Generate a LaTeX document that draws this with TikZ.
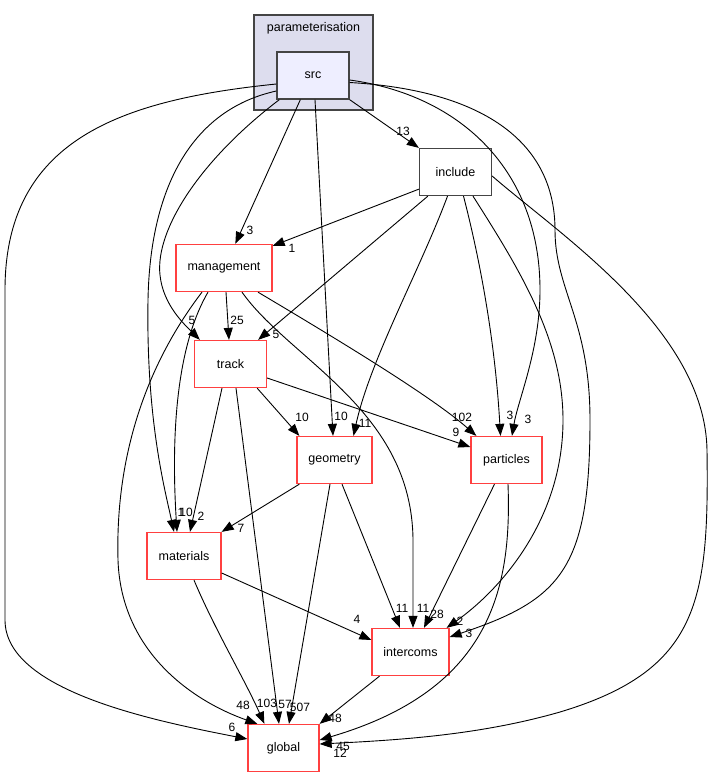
\documentclass[tikz,border=0pt]{standalone}
\usepackage{fontspec}
\setmainfont{Liberation Sans}
\usepackage{tikz}
\usetikzlibrary{arrows.meta,calc}

\definecolor{dirred}{RGB}{255,64,64}
\definecolor{dirgrey}{RGB}{68,68,68}
\definecolor{clusterfill}{RGB}{221,221,238}
\definecolor{srcfill}{RGB}{238,238,255}

\tikzset{
  dirbox/.style={draw=dirred, line width=1.3pt, fill=white, minimum height=47pt, inner sep=0pt, font=\fontsize{12.5}{14}\selectfont},
  dep/.style={-{Triangle[length=12pt,width=9pt]}, line width=0.9pt},
  lbl/.style={font=\fontsize{12}{14}\selectfont, inner sep=0pt},
}

\begin{document}
\begin{tikzpicture}[x=1pt,y=-1pt]
\useasboundingbox (0,0) rectangle (715,777);

\draw[draw=dirgrey, fill=clusterfill, line width=1.3pt] (254,15) rectangle (373,110);
\node[lbl, font=\fontsize{12.5}{14}\selectfont] (paramtitle) at (313.5,28) {parameterisation};

\node[dirbox, draw=dirgrey, fill=srcfill, minimum width=72pt] (src) at (313,75.5) {src};
\node[dirbox, draw=dirgrey, minimum width=72pt] (include) at (455.5,172) {include};
\node[dirbox, minimum width=96pt] (management) at (224,268) {management};
\node[dirbox, minimum width=72pt] (track) at (230.5,364) {track};
\node[dirbox, minimum width=75pt] (geometry) at (334.5,460) {geometry};
\node[dirbox, minimum width=71pt] (particles) at (506.5,460) {particles};
\node[dirbox, minimum width=74pt] (materials) at (184,556) {materials};
\node[dirbox, minimum width=77pt] (intercoms) at (410.5,652) {intercoms};
\node[dirbox, minimum width=71pt] (global) at (283.5,748) {global};

% src
\draw[dep] (src.south east) -- (include.north west) node[lbl, at={(403,131)}] {13};
\draw[dep] ($(src.south west)+(24,0)$) -- ($(management.north west)+(60,0)$) node[lbl, at={(250,230)}] {3};
\draw[dep] ($(src.south west)+(3,0)$) .. controls (200,160) and (155,230) .. (160,275) .. controls (163,305) and (185,325) .. ($(track.north west)+(6,0)$) node[lbl, at={(192,320)}] {5};
\draw[dep] ($(src.south)+(2,0)$) -- ($(geometry.north)+(-1.5,0)$) node[lbl, at={(341,416)}] {10};
\draw[dep] ($(src.east)+(0,4.5)$) .. controls (460,95) and (540,170) .. (540,290) .. controls (540,350) and (518,400) .. ($(particles.north)+(5.5,0)$) node[lbl, at={(528,419)}] {3};
\draw[dep] ($(src.east)+(0,7)$) .. controls (480,90) and (555,140) .. (555,230) .. controls (555,290) and (590,320) .. (590,420) .. controls (590,570) and (560,600) .. ($(intercoms.east)+(0,-15)$) node[lbl, at={(469,633)}] {3};
\draw[dep] ($(src.west)+(0,15.5)$) .. controls (190,110) and (150,190) .. (148,300) .. controls (146,420) and (165,490) .. ($(materials.north)+(-10,0)$) node[lbl, at={(181,512)}] {1};
\draw[dep] ($(src.west)+(0,8.5)$) .. controls (120,100) and (5,140) .. (5,290) -- (5,620) .. controls (5,690) and (150,720) .. ($(global.west)+(0,-9)$) node[lbl, at={(232,727)}] {6};

% include
\draw[dep] ($(include.south west)+(0,-7)$) -- ($(management.north east)+(0,2)$) node[lbl, at={(292,248)}] {1};
\draw[dep] ($(include.south west)+(9,0)$) -- ($(track.north east)+(-9,0)$) node[lbl, at={(276,334)}] {5};
\draw[dep] ($(include.south)+(-8,0)$) .. controls (420,270) and (370,360) .. ($(geometry.north)+(19,0)$) node[lbl, at={(365,423)}] {11};
\draw[dep] ($(include.south)+(8,0)$) .. controls (480,260) and (495,340) .. ($(particles.north)+(-6,0)$) node[lbl, at={(510,415)}] {3};
\draw[dep] ($(include.south)+(17.5,0)$) .. controls (520,270) and (563,340) .. (563,420) .. controls (563,520) and (500,590) .. ($(intercoms.north east)+(-3,0)$) node[lbl, at={(460,621)}] {2};
\draw[dep] ($(include.east)+(0,4)$) .. controls (560,235) and (705,330) .. (707,450) .. controls (709,600) and (700,670) .. (560,712) .. controls (480,735) and (400,740) .. ($(global.east)+(0,-4)$) node[lbl, at={(340,753)}] {12};

% management
\draw[dep] ($(management.south)+(2,0)$) -- ($(track.north)+(-1.5,0)$) node[lbl, at={(237,320)}] {25};
\draw[dep] ($(management.south)+(34,0)$) .. controls (330,335) and (430,395) .. ($(particles.north west)+(6,0)$) node[lbl, at={(462,417)}] {102};
\draw[dep] ($(management.south)+(18,0)$) .. controls (290,360) and (412,410) .. (413,540) -- ($(intercoms.north)+(2.5,0)$) node[lbl, at={(423,608)}] {11};
\draw[dep] ($(management.south)+(-16,0)$) .. controls (180,340) and (170,420) .. ($(materials.north)+(-7,0)$) node[lbl, at={(186,512)}] {10};
\draw[dep] ($(management.south)+(-22,0)$) .. controls (150,360) and (115,450) .. (118,560) .. controls (121,650) and (190,700) .. ($(global.north west)+(10,0)$) node[lbl, at={(243,705)}] {48};

% track
\draw[dep] ($(track.south east)+(-10,0)$) -- ($(geometry.north west)+(3,0)$) node[lbl, at={(302,417)}] {10};
\draw[dep] ($(track.east)+(0,14)$) -- ($(particles.west)+(0,-13)$) node[lbl, at={(456,432)}] {9};
\draw[dep] ($(track.south)+(-8.5,0)$) -- ($(materials.north)+(6,0)$) node[lbl, at={(201,516)}] {2};
\draw[dep] ($(track.south)+(5.5,0)$) -- ($(global.north)+(-4.5,0)$) node[lbl, at={(285,704)}] {57};

% geometry
\draw[dep] ($(geometry.south west)+(3,0)$) -- (materials.north east) node[lbl, at={(241,528)}] {7};
\draw[dep] ($(geometry.south)+(-4.5,0)$) -- ($(global.north)+(5.5,0)$) node[lbl, at={(300,707)}] {507};
\draw[dep] ($(geometry.south)+(7.5,0)$) -- ($(intercoms.north)+(-10.5,0)$) node[lbl, at={(402,608)}] {11};

% particles
\draw[dep] ($(particles.south)+(-12,0)$) -- ($(intercoms.north)+(13.5,0)$) node[lbl, at={(437,614)}] {28};
\draw[dep] ($(particles.south)+(1.5,0)$) .. controls (512,590) and (490,690) .. ($(global.east)+(0,-8)$) node[lbl, at={(343,746)}] {45};

% materials, intercoms
\draw[dep] ($(materials.east)+(0,17)$) -- ($(intercoms.west)+(0,-12)$) node[lbl, at={(357,619)}] {4};
\draw[dep] ($(materials.south)+(10,0)$) .. controls (215,630) and (245,680) .. ($(global.north west)+(17,0)$) node[lbl, at={(267,703)}] {103};
\draw[dep] ($(intercoms.south)+(-31,0)$) -- (global.north east) node[lbl, at={(335,718)}] {48};
\end{tikzpicture}
\end{document}
